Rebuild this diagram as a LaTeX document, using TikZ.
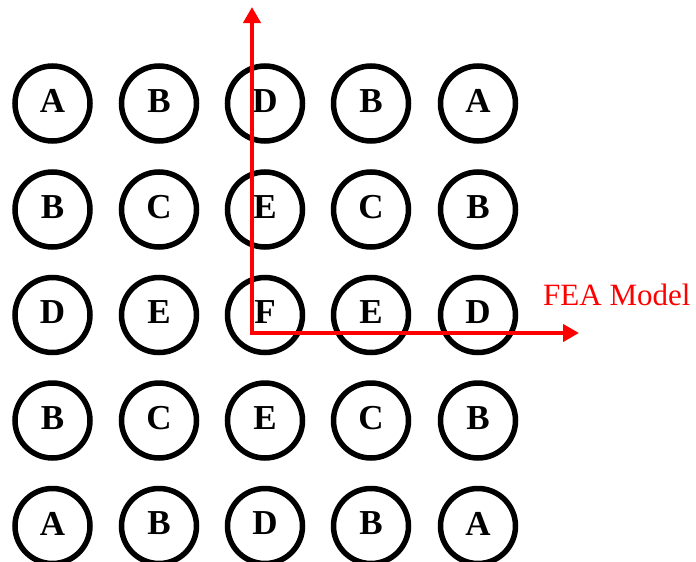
\documentclass[tikz,border=0pt]{standalone}
\usepackage{fontspec}
\setmainfont{Liberation Serif}
\usetikzlibrary{arrows.meta}
\begin{document}
\begin{tikzpicture}[x=1pt,y=-1pt,
  cell/.style={circle,draw=black,line width=5.5pt,minimum size=75pt,inner sep=0pt,
    text depth=5pt,font=\fontsize{35}{40}\selectfont\bfseries},
  axis/.style={draw=red,line width=4pt,
    {Triangle[length=16pt,width=17pt]}-{Triangle[length=16pt,width=17pt]}},
  lab/.style={text=red,font=\fontsize{31}{36}\selectfont,inner sep=0pt,anchor=base west}]
\useasboundingbox (0,0) rectangle (696,562);
\def\cols{{52.5,159,265,371,478}}
\def\rows{{103.5,209.5,315,420.5,526}}
\foreach \r/\labs in {0/{A,B,D,B,A},1/{B,C,E,C,B},2/{D,E,F,E,D},3/{B,C,E,C,B},4/{A,B,D,B,A}}{
  \foreach \t [count=\c from 0] in \labs {
    \pgfmathsetmacro{\xx}{\cols[\c]}
    \pgfmathsetmacro{\yy}{\rows[\r]}
    \node[cell] (n\r\c) at (\xx,\yy) {\t};
  }
}
\coordinate (o) at (252,333);
\coordinate (ytip) at (252,7);
\coordinate (xtip) at (579,333);
\path[axis] (ytip) -- (o) -- (xtip);
\node[lab] (fea) at (543,305) {FEA Model};
\end{tikzpicture}
\end{document}
